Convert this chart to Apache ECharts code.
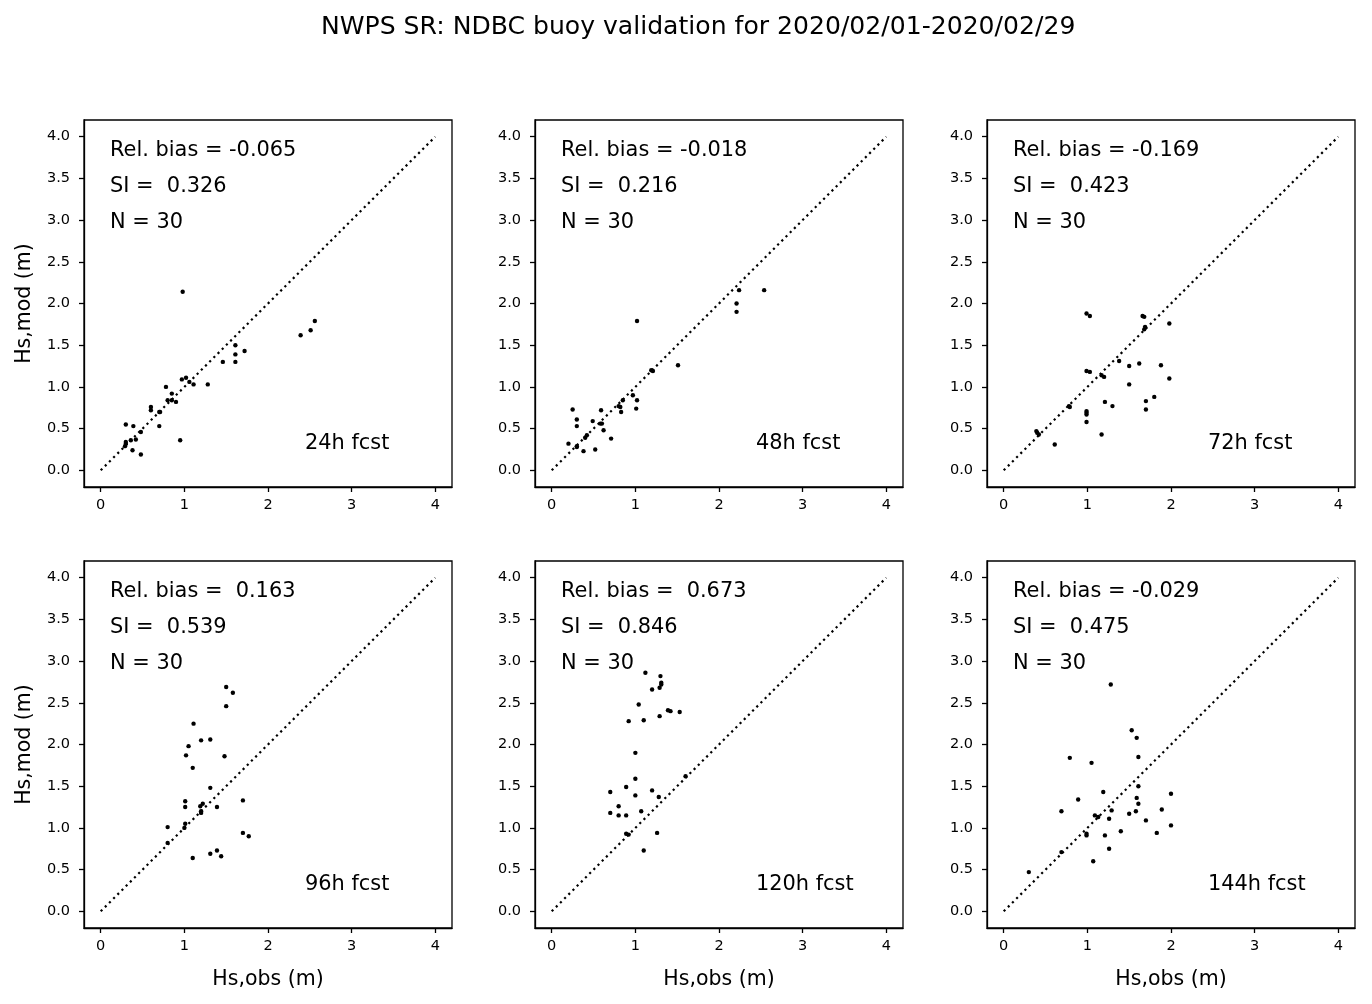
<!DOCTYPE html>
<html>
<head>
<meta charset="utf-8">
<script src="https://cdn.jsdelivr.net/npm/echarts@6/dist/echarts.min.js"></script>
<style>
html,body{margin:0;padding:0;background:#fff;}
#chart{width:1372px;height:1004px;}
</style>
</head>
<body>
<div id="chart"></div>
<script>
// ---- data ----
const titleText = 'NWPS SR: NDBC buoy validation for 2020/02/01-2020/02/29';
const fcstLabels = ['24h fcst', '48h fcst', '72h fcst', '96h fcst', '120h fcst', '144h fcst'];
const relBias = ['-0.065', '-0.018', '-0.169', ' 0.163', ' 0.673', '-0.029'];
const siValues = [' 0.326', ' 0.216', ' 0.423', ' 0.539', ' 0.846', ' 0.475'];
const nValues = [30, 30, 30, 30, 30, 30];
const xTicks = [0, 1, 2, 3, 4];
const yTicks = [0, 0.5, 1, 1.5, 2, 2.5, 3, 3.5, 4];
const oneToOne = [[0, 0], [4, 4]];

const obs24 = [0.98,0.30,0.39,0.30,0.30,0.29,0.38,0.48,0.42,0.48,0.36,0.70,0.60,0.60,0.70,0.71,0.78,0.85,0.80,0.85,0.90,0.97,1.02,1.06,1.11,0.95,1.28,1.46,1.61,1.61,1.61,1.72,2.39,2.51,2.56];
const mod24 = [2.14,0.55,0.53,0.34,0.32,0.29,0.24,0.19,0.37,0.46,0.36,0.53,0.76,0.72,0.70,0.70,1.00,0.92,0.84,0.84,0.82,1.09,1.11,1.06,1.03,0.36,1.03,1.30,1.30,1.39,1.50,1.43,1.62,1.68,1.79];

const obs48 = [1.02,2.24,2.54,2.21,2.21,1.51,1.21,1.19,0.97,1.02,1.01,0.85,0.80,0.82,0.83,0.25,0.30,0.30,0.49,0.59,0.58,0.60,0.62,0.71,0.20,0.30,0.30,0.38,0.52,0.40,0.42];
const mod48 = [1.79,2.16,2.16,2.00,1.90,1.26,1.19,1.20,0.90,0.84,0.74,0.84,0.77,0.76,0.70,0.73,0.61,0.53,0.59,0.72,0.56,0.56,0.48,0.38,0.32,0.29,0.28,0.23,0.25,0.39,0.42];

const obs72 = [0.99,1.03,1.66,1.68,1.69,1.68,1.98,1.38,1.62,1.50,1.88,0.99,1.03,1.17,1.20,1.98,1.50,1.21,1.30,1.70,1.80,1.70,0.78,0.79,0.99,0.99,0.99,0.99,1.17,0.39,0.40,0.42,0.61];
const mod72 = [1.88,1.85,1.85,1.84,1.72,1.69,1.76,1.31,1.28,1.25,1.26,1.19,1.18,1.14,1.12,1.10,1.03,0.82,0.77,0.83,0.88,0.73,0.77,0.76,0.71,0.69,0.67,0.58,0.43,0.47,0.45,0.43,0.31];

const obs96 = [1.50,1.58,1.50,1.11,1.20,1.31,1.05,1.02,1.48,1.10,1.31,1.01,1.01,1.70,1.19,1.22,1.20,1.20,1.39,0.80,1.01,1.00,0.80,1.70,1.77,1.10,1.31,1.39,1.44];
const mod96 = [2.69,2.62,2.46,2.25,2.05,2.06,1.98,1.87,1.86,1.72,1.48,1.32,1.25,1.33,1.26,1.29,1.20,1.18,1.25,1.01,1.05,1.00,0.82,0.94,0.90,0.64,0.69,0.73,0.66];

const obs120 = [1.12,1.30,1.31,1.31,1.29,1.20,1.04,1.39,1.42,1.53,0.92,1.10,1.29,1.00,1.00,0.89,0.70,1.00,1.20,1.28,1.60,0.80,0.70,0.80,0.89,1.07,1.26,0.89,0.92,1.10];
const mod120 = [2.86,2.82,2.74,2.72,2.68,2.66,2.48,2.41,2.40,2.39,2.28,2.29,2.34,1.90,1.59,1.49,1.43,1.39,1.45,1.37,1.62,1.26,1.18,1.15,1.15,1.20,0.94,0.93,0.92,0.73];

const obs144 = [1.28,1.53,1.59,1.61,0.79,1.05,1.61,1.19,0.89,1.59,1.61,2.00,0.69,1.29,1.58,1.89,1.09,1.13,1.26,1.50,1.70,0.99,0.99,1.21,1.40,1.83,2.00,1.26,1.07,0.69,0.30];
const mod144 = [2.72,2.17,2.08,1.85,1.84,1.78,1.50,1.43,1.34,1.36,1.29,1.41,1.20,1.21,1.20,1.22,1.15,1.13,1.11,1.17,1.09,0.93,0.91,0.91,0.96,0.94,1.03,0.75,0.60,0.71,0.47];

const obsSets = [obs24, obs48, obs72, obs96, obs120, obs144];
const modSets = [mod24, mod48, mod72, mod96, mod120, mod144];

// ---- layout ----
const FONT = 'DejaVu Sans';
const gridLefts = [84, 535, 987];
const gridTops = [120, 561];
const GW = 368, GH = 367;
const TXT = 20.9;

const grids = [], xAxes = [], yAxes = [], series = [], graphics = [];

for (let i = 0; i < 6; i++) {
  const col = i % 3, row = Math.floor(i / 3);
  const left = gridLefts[col], top = gridTops[row];
  grids.push({
    left: left, top: top, width: GW, height: GH,
    show: true, borderColor: '#000', borderWidth: 1.3, backgroundColor: 'transparent',
    containLabel: false, outerBoundsMode: 'none'
  });
  xAxes.push({
    type: 'value', gridIndex: i, min: -0.2, max: 4.2,
    name: row === 1 ? 'Hs,obs (m)' : '',
    nameLocation: 'middle', nameGap: 41,
    nameTextStyle: { fontFamily: FONT, fontSize: 20.5, color: '#000' },
    axisLine: { show: true, onZero: false, lineStyle: { color: '#000', width: 1.3 } },
    axisTick: { show: true, inside: false, length: 5, customValues: xTicks, lineStyle: { color: '#000', width: 1.3 } },
    axisLabel: { show: true, customValues: xTicks, margin: 11, fontFamily: FONT, fontSize: 14.5, color: '#000',
      formatter: v => String(Math.round(v)) },
    splitLine: { show: false }
  });
  yAxes.push({
    type: 'value', gridIndex: i, min: -0.2, max: 4.2,
    name: col === 0 ? 'Hs,mod (m)' : '',
    nameLocation: 'middle', nameGap: 49,
    nameTextStyle: { fontFamily: FONT, fontSize: 20.5, color: '#000' },
    axisLine: { show: true, onZero: false, lineStyle: { color: '#000', width: 1.3 } },
    axisTick: { show: true, inside: false, length: 5, customValues: yTicks, lineStyle: { color: '#000', width: 1.3 } },
    axisLabel: { show: true, customValues: yTicks, margin: 14, fontFamily: FONT, fontSize: 14.5, color: '#000',
      formatter: v => v.toFixed(1) },
    splitLine: { show: false }
  });
  series.push({
    type: 'line', xAxisIndex: i, yAxisIndex: i, data: oneToOne,
    showSymbol: false, symbol: 'none', silent: true, animation: false,
    lineStyle: { color: '#000', width: 2.2, type: [2.2, 3.7], cap: 'butt' }, z: 2
  });
  series.push({
    type: 'scatter', xAxisIndex: i, yAxisIndex: i,
    data: obsSets[i].map((x, k) => [x, modSets[i][k]]),
    symbol: 'circle', symbolSize: 4.4, animation: false,
    itemStyle: { color: '#000', opacity: 1 }, z: 3
  });
  const st = t => ({ text: t, fontFamily: FONT, fontSize: TXT, fill: '#000' });
  graphics.push({ type: 'text', left: left + 26, top: top + 20, style: st('Rel. bias = ' + relBias[i]) });
  graphics.push({ type: 'text', left: left + 26, top: top + 56, style: st('SI = ' + siValues[i]) });
  graphics.push({ type: 'text', left: left + 26, top: top + 92, style: st('N = ' + nValues[i]) });
  graphics.push({ type: 'text', left: left + 221, top: top + 313, style: st(fcstLabels[i]) });
}

const chart = echarts.init(document.getElementById('chart'), null, { renderer: 'canvas' });
chart.setOption({
  backgroundColor: '#fff',
  animation: false,
  title: {
    text: titleText, left: 316, top: 10,
    textStyle: { fontFamily: FONT, fontSize: 25.1, fontWeight: 'normal', color: '#000' }
  },
  grid: grids,
  xAxis: xAxes,
  yAxis: yAxes,
  series: series,
  graphic: graphics
});
</script>
</body>
</html>
